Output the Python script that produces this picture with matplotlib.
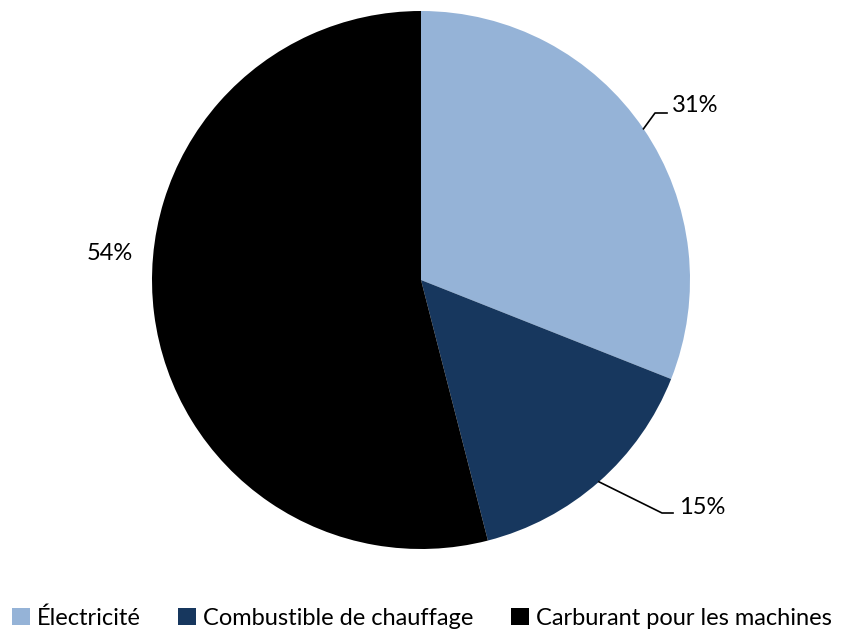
import numpy as np
import matplotlib.pyplot as plt

labels = ["Électricité", "Combustible de chauffage", "Carburant pour les machines"]
values = [31, 15, 54]
colors = ["#95B3D7", "#17375E", "#000000"]

plt.rcParams['font.family'] = ['Lato', 'DejaVu Sans']

fig = plt.figure(figsize=(8.44, 6.30), dpi=100)
ax = fig.add_axes([0, 0, 1, 1])

cx, cy, r = 421, 350, 269
wedges, _ = ax.pie(values, colors=colors, startangle=90, counterclock=False,
                   center=(cx, cy), radius=r, wedgeprops=dict(linewidth=0))
ax.set_xlim(0, 844)
ax.set_ylim(0, 630)
ax.set_aspect('equal')
ax.axis('off')

# label positions (pixel coords, y up) and leader elbows
label_pos = [(695, 525), (702, 123), (110, 377)]
elbows = [[(655, 517), (667, 517)], [(662, 117), (673, 117)], None]

for w, v, pos, elb in zip(wedges, values, label_pos, elbows):
    ang = np.deg2rad((w.theta1 + w.theta2) / 2)
    ex, ey = cx + r * np.cos(ang), cy + r * np.sin(ang)
    if elb is not None:
        xs = [ex] + [p[0] for p in elb]
        ys = [ey] + [p[1] for p in elb]
        ax.plot(xs, ys, color="black", lw=1.2)
    ax.text(pos[0], pos[1], f"{v}%", ha="center", va="center", fontsize=17)

fig.legend(wedges, labels, loc="lower center", bbox_to_anchor=(0.5, -0.032), ncol=3,
           frameon=False, fontsize=17, handlelength=0.75, handleheight=0.75,
           handletextpad=0.3, columnspacing=1.6)

fig.savefig("out.png", dpi=100)
